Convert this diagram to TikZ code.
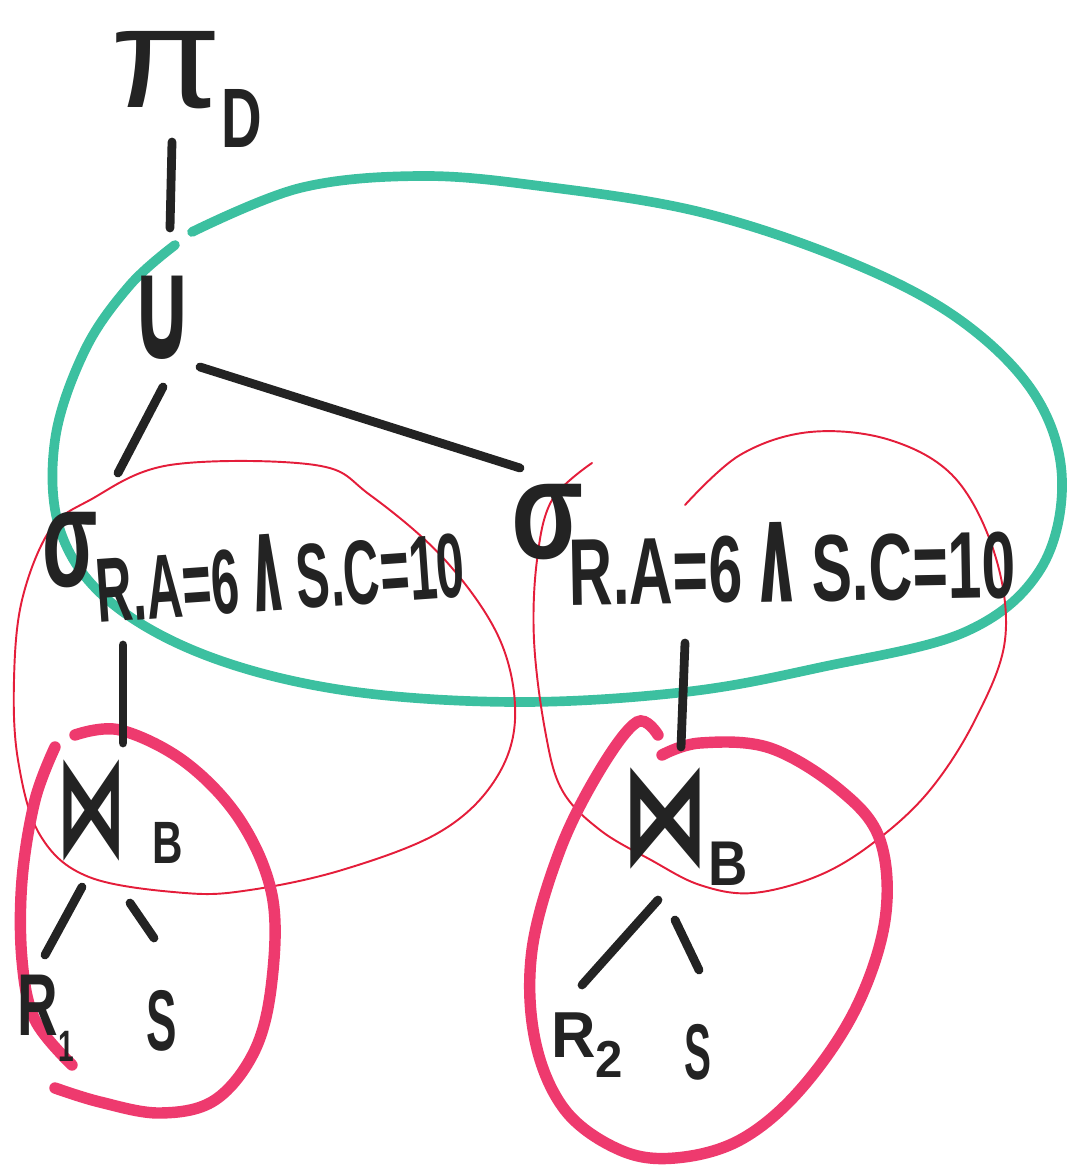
\documentclass[tikz,border=0pt]{standalone}
\usepackage{fontspec}
\setmainfont{Liberation Sans}
\newfontfamily\opfont{DejaVu Sans Bold}
\newfontfamily\opthin{DejaVu Sans}
\usepackage{graphicx}
\definecolor{ink}{HTML}{232323}
\definecolor{groupteal}{HTML}{3CC0A0}
\definecolor{grouppink}{HTML}{EE3A6E}
\definecolor{groupred}{HTML}{E41D3A}
\newcommand{\condtext}{R.A=6\,\scalebox{1}[1.45]{\opthin ∧}\,S.C=10}
\begin{document}
\begin{tikzpicture}[x=0.02cm,y=-0.02cm,
  lbl/.style={inner sep=0pt, text=ink, font=\bfseries},
  edge/.style={draw=ink, line width=5pt, line cap=round},
  tealring/.style={draw=groupteal, line width=5.5pt, line cap=round},
  pinkring/.style={draw=grouppink, line width=6.5pt, line cap=round},
  thinring/.style={draw=groupred, line width=1.1pt, line cap=round}]
\useasboundingbox (0,0) rectangle (1075,1169);

% groupings
\draw[tealring] plot[smooth, tension=0.6] coordinates {(192,232) (300,188) (420,176) (540,186) (700,212) (850,262) (960,320) (1035,395) (1062,480) (1040,570) (965,632) (822,667) (685,692) (514,702) (342,690) (205,655) (108,600) (60,530) (55,440) (85,350) (130,285) (175,245)};
\draw[thinring] plot[smooth cycle, tension=0.6] coordinates {(90,500) (170,465) (315,465) (370,495) (445,560) (500,640) (515,720) (493,783) (438,833) (342,870) (250,890) (185,893) (89,877) (40,835) (18,760) (14,680) (22,600) (50,530)};
\draw[thinring] plot[smooth, tension=0.6] coordinates {(685,505) (740,455) (810,432) (890,440) (955,478) (995,555) (1005,640) (975,720) (930,790) (877,840) (820,875) (753,893) (700,885) (651,860) (600,830) (562,790) (545,730) (534,640) (537,560) (552,500) (592,463)};
\draw[pinkring] plot[smooth, tension=0.6] coordinates {(75,735) (120,730) (185,762) (240,820) (272,895) (272,980) (255,1050) (215,1100) (160,1113) (100,1102) (55,1088)};
\draw[pinkring] plot[smooth, tension=0.6] coordinates {(55,747) (35,800) (22,880) (22,960) (35,1020) (72,1065)};
\draw[pinkring] plot[smooth, tension=0.6] coordinates {(658,735) (637,722) (600,770) (560,850) (532,950) (535,1040) (565,1110) (620,1150) (675,1158) (740,1140) (800,1090) (855,1010) (885,920) (880,840) (840,790) (770,748) (700,743) (662,755)};

% operators and relations
\node[lbl, font=\mdseries] (pi) at (166,70) {\scalebox{9.2}[8.2]{π}};
\node[lbl] (dsub) at (242,118) {\scalebox{3.2}[4.8]{D}};
\node[lbl] (cup) at (162,318) {\scalebox{4.6}[8.2]{\opfont ∪}};
\node[lbl] (sigL) at (70,550) {\scalebox{4.6}[8]{σ}};
\node[lbl, rotate=4] (condL) at (280,572) {\scalebox{2.85}[5.2]{\condtext}};
\node[lbl] (sigR) at (548,522) {\scalebox{6}[8]{σ}};
\node[lbl, rotate=1] (condR) at (792,562) {\scalebox{3.45}[5.4]{\condtext}};
\node[lbl] (joinL) at (92,810) {\scalebox{4}[8]{\opfont ⋈}};
\node[lbl] (bL) at (168,843) {\scalebox{2.4}[3.4]{B}};
\node[lbl] (joinR) at (665,818) {\scalebox{5}[8]{\opfont ⋈}};
\node[lbl] (bR) at (728,864) {\scalebox{3.1}[3.6]{B}};
\node[lbl] (rL) at (46,1018) {\scalebox{3.2}[5]{R\raisebox{-0.3em}{\fontsize{5}{6}\selectfont 1}}};
\node[lbl] (sL) at (162,1021) {\scalebox{2.6}[4.9]{S}};
\node[lbl] (rR) at (587,1045) {\scalebox{3.5}[3.7]{R\raisebox{-0.3em}{\fontsize{8}{9}\selectfont 2}}};
\node[lbl] (sR) at (698,1052) {\scalebox{2.3}[4.5]{S}};

% tree edges
\draw[edge] ([shift={(6,72)}]pi.center) -- ([shift={(8,-90)}]cup.center);
\draw[edge] ([shift={(1,69)}]cup.center) -- ([shift={(48,-77)}]sigL.center);
\draw[edge] ([shift={(38,49)}]cup.center) -- ([shift={(-28,-54)}]sigR.center);
\draw[edge] ([shift={(53,95)}]sigL.center) -- ([shift={(31,-67)}]joinL.center);
\draw[edge] ([shift={(-107,81)}]condR.center) -- ([shift={(16,-71)}]joinR.center);
\draw[edge] ([shift={(-10,77)}]joinL.center) -- ([shift={(-1,-63)}]rL.center);
\draw[edge] ([shift={(38,93)}]joinL.center) -- ([shift={(-8,-83)}]sL.center);
\draw[edge] ([shift={(-7,82)}]joinR.center) -- ([shift={(-5,-60)}]rR.center);
\draw[edge] ([shift={(10,102)}]joinR.center) -- ([shift={(1,-82)}]sR.center);
\end{tikzpicture}
\end{document}
